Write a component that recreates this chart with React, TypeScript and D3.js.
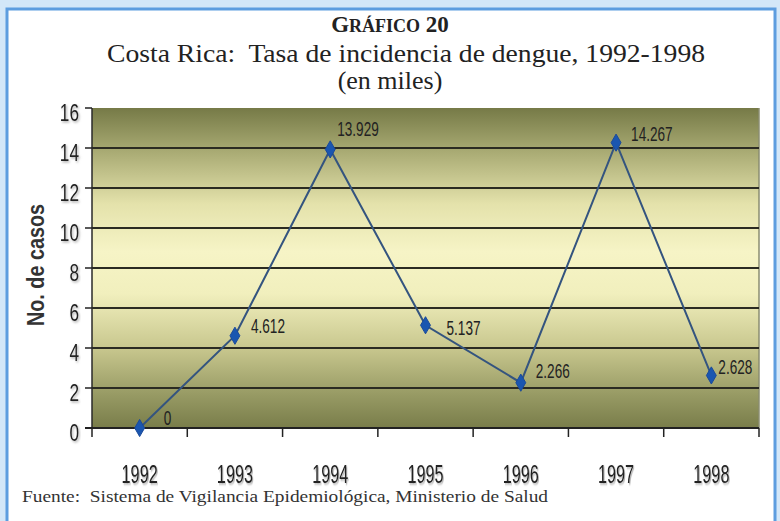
import React from "react";
import * as d3 from "d3";

const years = ["1992", "1993", "1994", "1995", "1996", "1997", "1998"];
const values = [0, 4.612, 13.929, 5.137, 2.266, 14.267, 2.628];
const valueLabels = ["0", "4.612", "13.929", "5.137", "2.266", "14.267", "2.628"];
const yTicks = [0, 2, 4, 6, 8, 10, 12, 14, 16];

const W = 780;
const H = 521;
const left = 92;
const right = 759;
const top = 108;
const bottom = 428;

const sans = "'Liberation Sans', Arial, sans-serif";
const serif = "'Liberation Serif', 'Times New Roman', serif";

function Narrow(props: {
  x: number;
  y: number;
  sx: number;
  anchor?: string;
  size: number;
  weight?: string;
  fill?: string;
  filter?: string;
  children: React.ReactNode;
}) {
  return (
    <text
      transform={`translate(${props.x},${props.y}) scale(${props.sx},1)`}
      textAnchor={props.anchor ?? "start"}
      fontFamily={sans}
      fontSize={props.size}
      fontWeight={props.weight ?? "normal"}
      fill={props.fill ?? "#222"}
      filter={props.filter}
    >
      {props.children}
    </text>
  );
}

export default function App() {
  const x = d3.scaleBand<string>().domain(years).range([left, right]).padding(0);
  const y = d3.scaleLinear().domain([0, 16]).range([bottom, top]);
  const cx = (yr: string) => (x(yr) ?? 0) + x.bandwidth() / 2;
  const line = d3
    .line<number>()
    .x((_, i) => cx(years[i]))
    .y((d) => y(d));
  const diamond = d3.symbol().type(d3.symbolDiamond).size(85)();
  const boundaries = years.map((yr) => x(yr) ?? 0).concat([right]);

  const labelOffsets: [number, number][] = [
    [24, -3],
    [16, -3],
    [7, -13],
    [21, 10],
    [15, -5],
    [15, -2],
    [7, -1],
  ];

  return (
    <svg
      width={W}
      height={H}
      style={{ position: "absolute", left: 0, top: 0, display: "block" }}
    >
      <defs>
        <linearGradient id="bg" x1="0" y1="0" x2="0" y2="1">
          <stop offset="0%" stopColor="#767a47" />
          <stop offset="12%" stopColor="#a3a56e" />
          <stop offset="30%" stopColor="#e4e2ab" />
          <stop offset="45%" stopColor="#f6f4c6" />
          <stop offset="58%" stopColor="#f1efbd" />
          <stop offset="75%" stopColor="#c8c78e" />
          <stop offset="90%" stopColor="#969963" />
          <stop offset="100%" stopColor="#797d4a" />
        </linearGradient>
        <filter id="sh" x="-20%" y="-20%" width="140%" height="140%">
          <feDropShadow dx="1.5" dy="1.5" stdDeviation="1.2" floodColor="#888" floodOpacity="0.7" />
        </filter>
      </defs>
      <rect x={0} y={0} width={W} height={H} fill="#d3e7f8" />
      <rect x={7} y={9} width={768} height={530} fill="#ffffff" stroke="#5d9ddf" strokeWidth={3} />

      <text x={390} y={32} textAnchor="middle" fontFamily={serif} fontWeight="bold" fontSize={23} fill="#222">
        G<tspan fontSize={18}>RÁFICO</tspan> 20
      </text>
      <text
        x={107}
        y={62}
        textLength={598}
        lengthAdjust="spacingAndGlyphs"
        fontFamily={serif}
        fontSize={26}
        fill="#222"
      >
        {"Costa Rica:\u00A0 Tasa de incidencia de dengue, 1992-1998"}
      </text>
      <text x={390} y={89} textAnchor="middle" fontFamily={serif} fontSize={26} fill="#222">
        (en miles)
      </text>

      <rect x={left} y={top} width={right - left} height={bottom - top} fill="url(#bg)" />
      <line x1={right} y1={top} x2={right} y2={bottom} stroke="#8a8c70" strokeWidth={1.5} />

      {yTicks.slice(1, -1).map((t) => (
        <line key={t} x1={left} x2={right} y1={y(t)} y2={y(t)} stroke="#2b2b22" strokeWidth={2} />
      ))}

      <line x1={left} y1={top} x2={left} y2={bottom} stroke="#2a2a2a" strokeWidth={1.5} />
      <line x1={left - 7} y1={bottom} x2={right} y2={bottom} stroke="#222" strokeWidth={2} />
      {yTicks.map((t) => (
        <line key={"t" + t} x1={left - 7} x2={left} y1={y(t)} y2={y(t)} stroke="#222" strokeWidth={1.5} />
      ))}
      {boundaries.map((b, i) => (
        <line key={"b" + i} x1={b} x2={b} y1={bottom} y2={bottom + 9} stroke="#222" strokeWidth={1.5} />
      ))}

      {yTicks.map((t) => (
        <Narrow key={"l" + t} x={79} y={y(t) + 13} sx={0.75} anchor="end" size={23} filter="url(#sh)">
          {t}
        </Narrow>
      ))}

      {years.map((yr) => (
        <Narrow key={yr} x={cx(yr)} y={483} sx={0.65} anchor="middle" size={25} filter="url(#sh)">
          {yr}
        </Narrow>
      ))}

      <text
        transform={`translate(44, 265) rotate(-90)`}
        textAnchor="middle"
        textLength={122}
        lengthAdjust="spacingAndGlyphs"
        fontFamily={sans}
        fontWeight="bold"
        fontSize={24}
        fill="#333"
      >
        No. de casos
      </text>

      <path d={line(values) ?? ""} fill="none" stroke="#34547f" strokeWidth={2} />
      {values.map((v, i) => (
        <path
          key={"m" + i}
          d={diamond ?? ""}
          transform={`translate(${cx(years[i])}, ${y(v)})`}
          fill="#1a56b0"
          stroke="#1a4a9a"
        />
      ))}
      {values.map((v, i) => (
        <Narrow
          key={"v" + i}
          x={cx(years[i]) + labelOffsets[i][0]}
          y={y(v) + labelOffsets[i][1]}
          sx={0.68}
          size={20}
        >
          {valueLabels[i]}
        </Narrow>
      ))}

      <text
        x={22}
        y={502}
        textLength={526}
        lengthAdjust="spacingAndGlyphs"
        fontFamily={serif}
        fontSize={16}
        fill="#333"
      >
        {"Fuente:\u00A0 Sistema de Vigilancia Epidemiológica, Ministerio de Salud"}
      </text>
    </svg>
  );
}
